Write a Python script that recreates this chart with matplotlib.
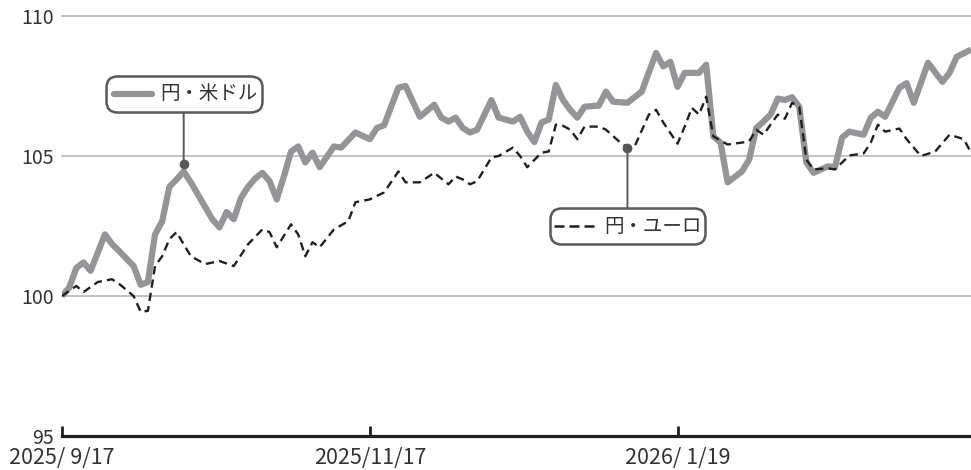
import matplotlib.pyplot as plt
from matplotlib.lines import Line2D
from matplotlib.offsetbox import AnnotationBbox, DrawingArea, HPacker, TextArea
from matplotlib.transforms import offset_copy

plt.rcParams['font.family'] = ['Noto Sans CJK JP', 'DejaVu Sans']

# 円・米ドル (day index, index value)
usd_day = [0, 1, 2, 3, 4, 6, 7, 8, 10, 11, 12, 13, 14, 15, 16, 17, 18, 21, 22, 23,
           24, 25, 26, 27, 28, 29, 30, 31, 32, 33, 34, 35, 36, 38, 39, 41, 43, 44, 45, 47,
           48, 50, 52, 53, 54, 55, 56, 57, 58, 60, 61, 63, 64, 65, 66, 67, 68, 69, 70, 71,
           72, 73, 75, 76, 77, 79, 80, 81, 83, 84, 85, 86, 87, 89, 90, 91, 92, 93, 95, 96,
           97, 98, 99, 100, 101, 102, 103, 104, 105, 107, 108, 109, 110, 112, 113, 114, 115, 117, 118, 119,
           121, 123, 124, 125, 127]
usd_val = [100.0, 100.3, 101.0, 101.2, 100.9, 102.2, 101.85, 101.6, 101.07, 100.4, 100.5, 102.2, 102.67, 103.9, 104.16, 104.45, 104.06, 102.74, 102.45, 103.0,
           102.74, 103.5, 103.9, 104.2, 104.4, 104.1, 103.45, 104.27, 105.16, 105.34, 104.77, 105.12, 104.6, 105.34, 105.3, 105.84, 105.6, 106.0, 106.1, 107.44,
           107.5, 106.4, 106.83, 106.37, 106.23, 106.37, 106.0, 105.84, 105.94, 107.0, 106.37, 106.23, 106.4, 105.87, 105.5, 106.2, 106.3, 107.54, 107.0, 106.65,
           106.37, 106.76, 106.8, 107.3, 106.94, 106.9, 107.1, 107.3, 108.68, 108.2, 108.36, 107.47, 107.97, 107.97, 108.26, 105.7, 105.48, 104.06, 104.45, 104.87,
           106.0, 106.23, 106.48, 107.05, 107.0, 107.1, 106.76, 104.77, 104.4, 104.63, 104.6, 105.66, 105.87, 105.76, 106.37, 106.58, 106.4, 107.44, 107.6, 106.9,
           108.33, 107.65, 107.97, 108.54, 108.8]

# 円・ユーロ
eur_day = [0, 2, 3, 5, 7, 8, 10, 11, 12, 13, 14, 15, 16, 18, 20, 22, 24, 26, 28, 29,
           30, 32, 33, 34, 35, 36, 38, 40, 41, 43, 45, 47, 48, 50, 52, 54, 55, 56, 57, 58,
           60, 61, 63, 64, 65, 67, 68, 69, 70, 71, 72, 73, 75, 76, 78, 79, 80, 82, 83, 84,
           86, 87, 88, 89, 90, 91, 93, 95, 96, 97, 98, 100, 101, 102, 103, 104, 105, 107, 108, 110,
           112, 113, 114, 115, 117, 118, 120, 122, 124, 126, 127]
eur_val = [100.0, 100.36, 100.14, 100.5, 100.6, 100.43, 100.0, 99.43, 99.47, 101.07, 101.42, 102.03, 102.28, 101.42, 101.14, 101.25, 101.07, 101.85, 102.38, 102.28,
           101.74, 102.56, 102.2, 101.42, 101.92, 101.74, 102.38, 102.67, 103.35, 103.45, 103.7, 104.45, 104.06, 104.06, 104.4, 103.99, 104.27, 104.16, 103.99, 104.1,
           104.95, 105.0, 105.3, 105.0, 104.6, 105.12, 105.16, 106.12, 106.08, 105.94, 105.6, 106.05, 106.05, 105.94, 105.48, 105.3, 105.34, 106.48, 106.65, 106.2,
           105.44, 106.05, 106.72, 106.48, 107.12, 105.7, 105.41, 105.48, 105.52, 105.94, 105.76, 106.48, 106.33, 106.9, 106.76, 104.87, 104.52, 104.56, 104.52, 105.02,
           105.09, 105.48, 106.12, 105.87, 105.98, 105.6, 105.0, 105.16, 105.76, 105.6, 105.12]

tick_days = [0, 43, 86]
tick_labels = ['2025/ 9/17', '2025/11/17', '2026/ 1/19']
y_ticks = [95, 100, 105, 110]

usd_name = '円・米ドル'
eur_name = '円・ユーロ'
usd_mark = 15   # position in usd lists (day 17)
eur_mark = 55   # position in eur lists (day 79)

gray = '#939598'
ink = '#231f20'
frame = '#58585a'

fig = plt.figure(figsize=(9.71, 4.70), dpi=100)
ax = fig.add_axes([62 / 971, 34 / 470, 909 / 971, 420 / 470])

ax.plot(usd_day, usd_val, color=gray, lw=4.5, solid_joinstyle='round', solid_capstyle='butt', zorder=3)
ax.plot(eur_day, eur_val, color=ink, lw=1.7, ls=(0, (3.5, 2.2)), zorder=4)

ax.set_xlim(0, 127)
ax.set_ylim(95, 110)
ax.set_xticks(tick_days)
ax.set_xticklabels(tick_labels)
ax.set_yticks(y_ticks)

for s in ['top', 'right', 'left']:
    ax.spines[s].set_visible(False)
ax.spines['bottom'].set_linewidth(2.3)
ax.spines['bottom'].set_color(ink)
ax.spines['bottom'].set_zorder(5)

ax.yaxis.grid(True, color='#b1b1b1', lw=1.1)
for gl in ax.get_ygridlines():
    gl.set_clip_on(False)
ax.set_axisbelow(True)

ax.tick_params(axis='x', direction='in', length=7, width=2, color=ink,
               labelsize=15.5, labelcolor='#333333', pad=8)
ax.tick_params(axis='y', length=0, labelsize=14, labelcolor='#333333', pad=6)


def tag(sample, text, xy, xybox, xy_trans):
    da = DrawingArea(32, 20, 0, 0)
    da.add_artist(sample)
    ta = TextArea(text, textprops=dict(fontsize=14, color='#333333'))
    box = HPacker(children=[da, ta], align='center', pad=0, sep=4)
    ab = AnnotationBbox(box, xy, xybox=xybox, xycoords=xy_trans, boxcoords='data',
                        pad=0.5, frameon=True, zorder=6,
                        bboxprops=dict(boxstyle='round,pad=0.3,rounding_size=0.8',
                                       fc='white', ec=frame, lw=1.8),
                        arrowprops=dict(arrowstyle='-', color=frame, lw=1.4,
                                        shrinkA=0, shrinkB=0))
    ax.add_artist(ab)


lift = offset_copy(ax.transData, fig=fig, y=5, units='points')
ux, uy = usd_day[usd_mark], usd_val[usd_mark]
ex, ey = eur_day[eur_mark], eur_val[eur_mark]
ax.plot(ux, uy, 'o', ms=6, color=frame, transform=lift, zorder=7)
ax.plot(ex, ey, 'o', ms=6, color=frame, zorder=7)

tag(Line2D([3, 30], [10, 10], lw=4.5, color=gray, solid_capstyle='round'),
    usd_name, (ux, uy), (ux, 107.22), lift)
tag(Line2D([0, 32], [10, 10], lw=1.8, color=ink, ls=(0, (4, 2))),
    eur_name, (ex, ey), (ex, 102.49), ax.transData)

fig.savefig('out.png', dpi=100)
